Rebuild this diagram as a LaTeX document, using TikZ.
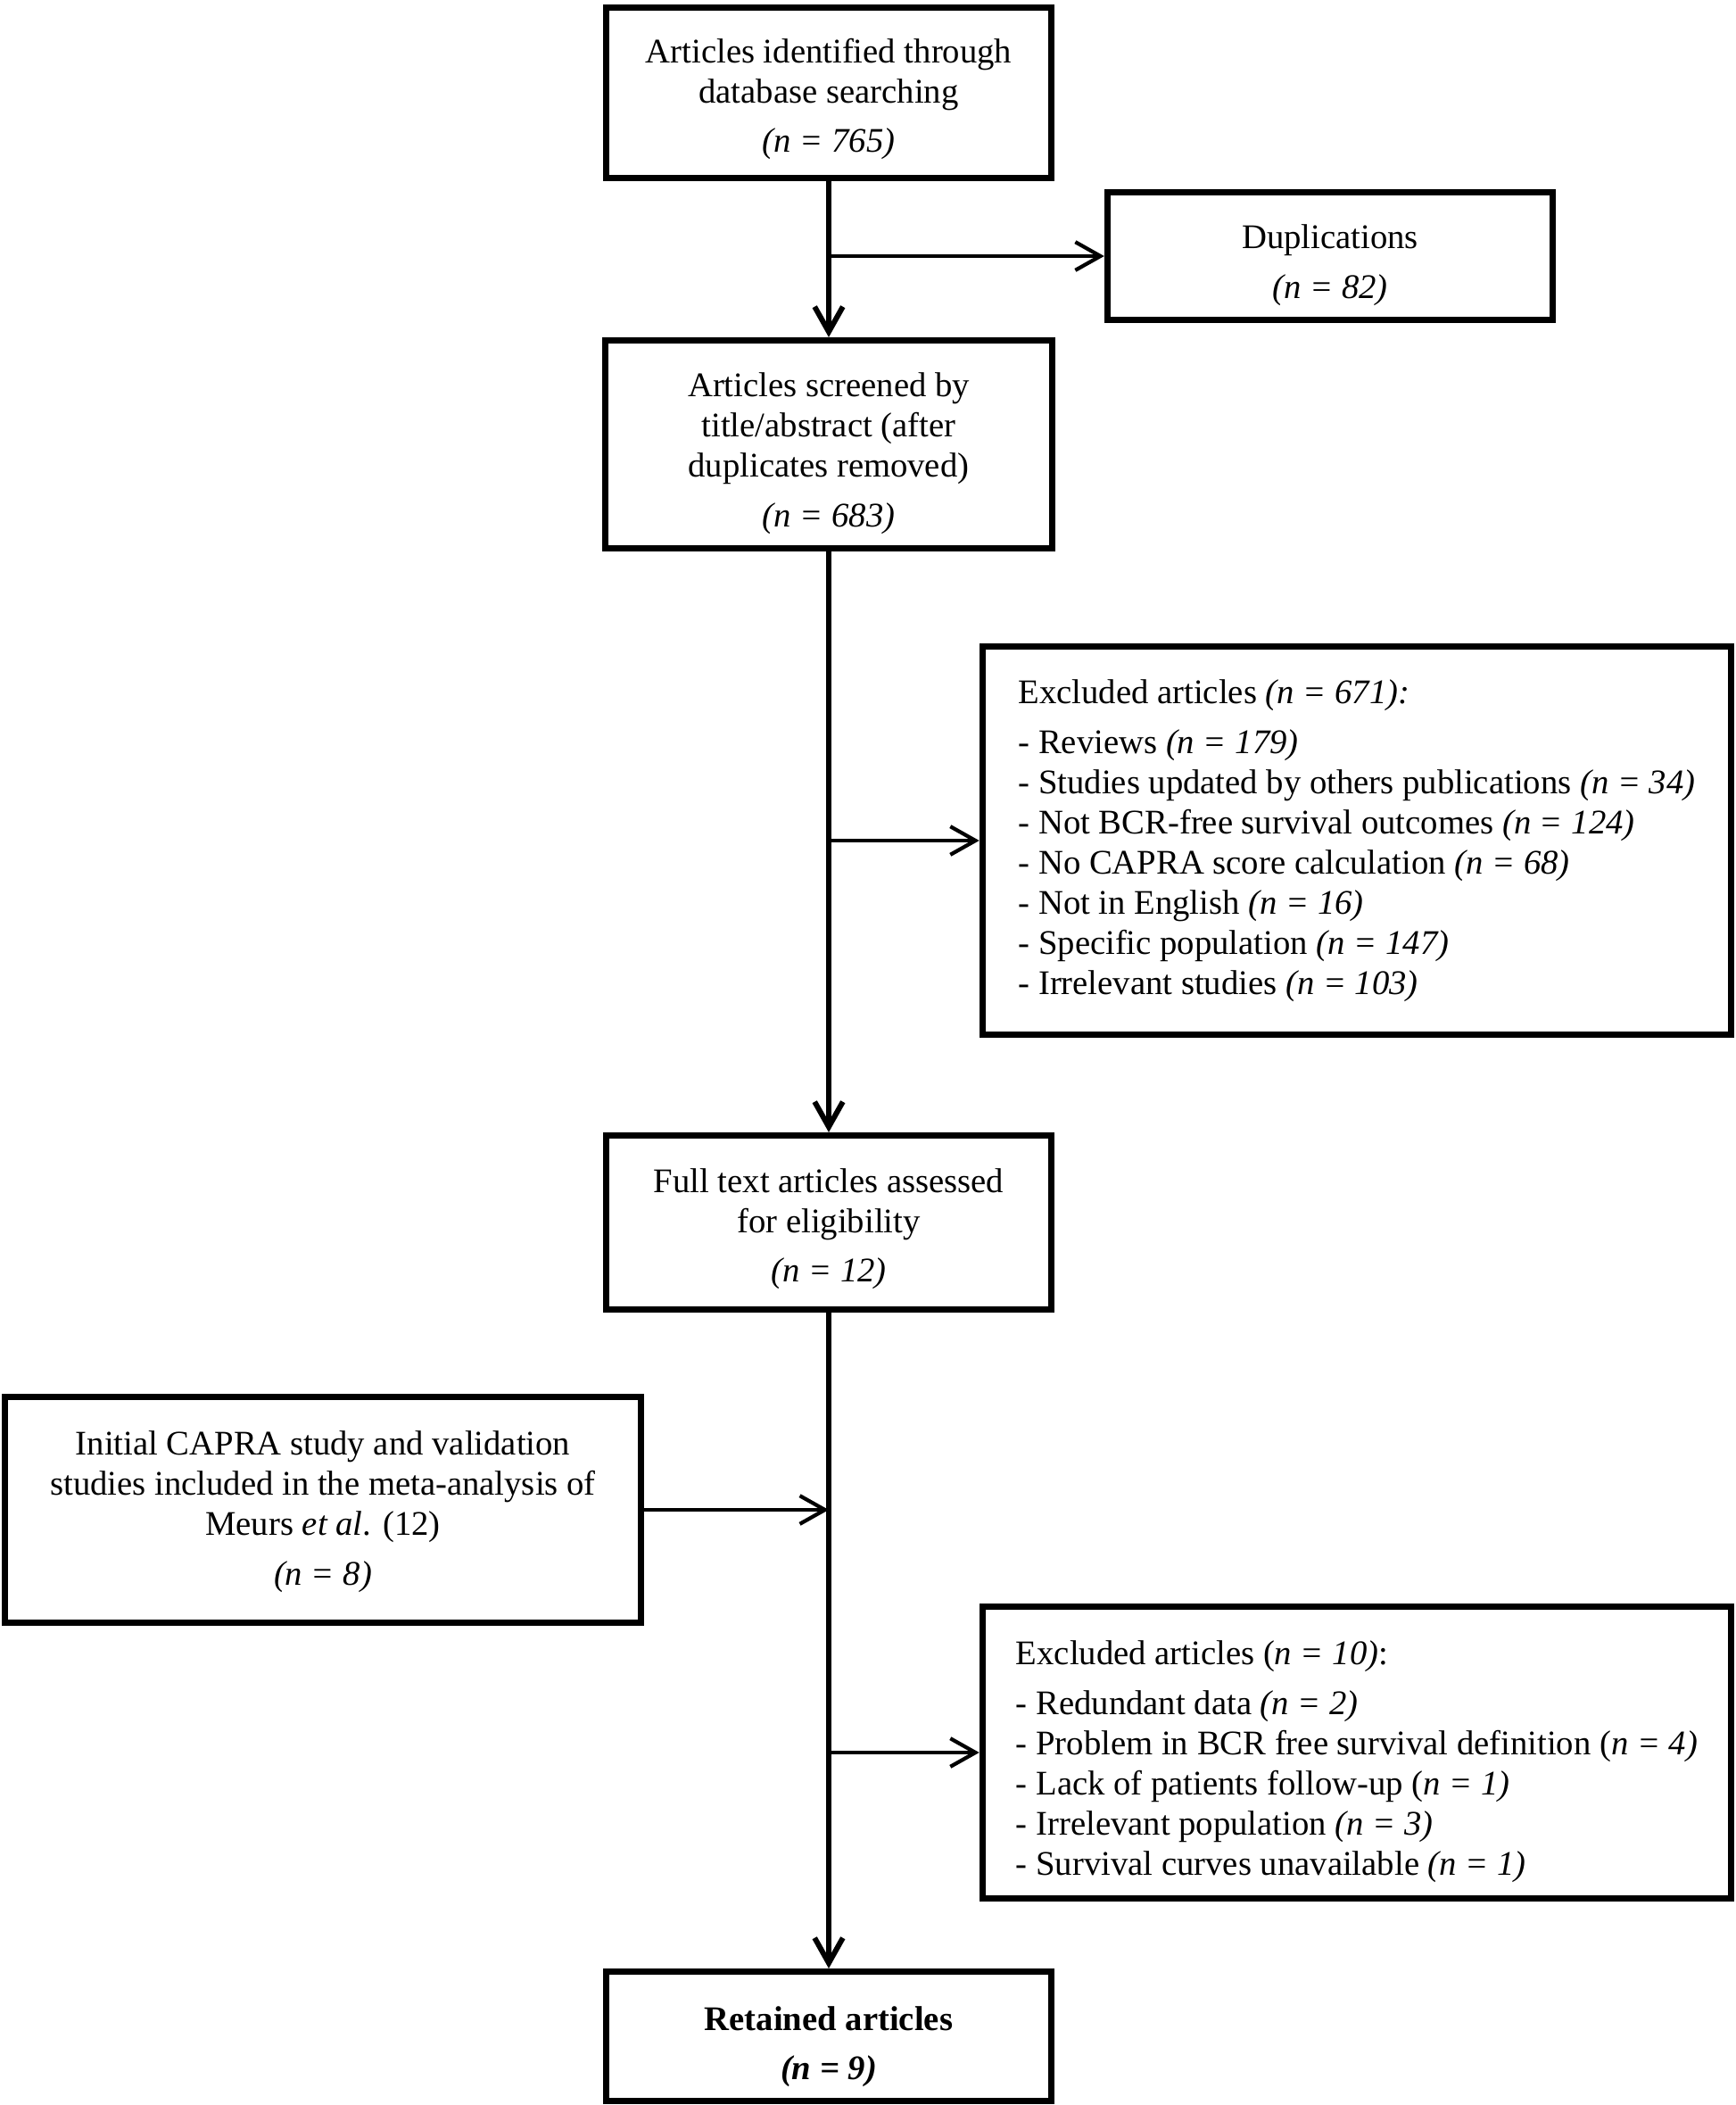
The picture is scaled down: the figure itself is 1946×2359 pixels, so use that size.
\documentclass[tikz,border=0pt]{standalone}
\usepackage{fontspec}
\setmainfont{Liberation Serif}
\usepackage{tikz}
\usetikzlibrary{arrows.meta}
\newcommand{\nn}[1]{\textit{n} = #1}
\newcommand{\lift}[1]{\rule{0pt}{#1}}

\begin{document}
\begin{tikzpicture}[x=0.01cm,y=-0.01cm,->,>={Straight Barb[length=8pt,width=9pt]},
  line width=1.7pt,
  box node/.style={rectangle,draw,line width=2pt,align=center,
    font=\fontsize{11}{12.8}\selectfont,inner sep=2pt},
  list node/.style={box node,align=left},
  side/.style={line width=1.2pt}]

  \useasboundingbox (0,0) rectangle (1946,2359);

  \node[box node,minimum width=4.99cm,minimum height=1.91cm] (ident) at (929,104)
    {\lift{11.8pt}Articles identified through\\database searching\\[3pt]\textit{(\nn{765})}};
  \node[box node,minimum width=4.99cm,minimum height=1.43cm] (dup) at (1491,287)
    {\lift{13.5pt}Duplications\\[3pt]\textit{(\nn{82})}};
  \node[box node,minimum width=5.00cm,minimum height=2.33cm] (screen) at (929,498)
    {\lift{13.5pt}Articles screened by\\title/abstract (after\\duplicates removed)\\[3pt]\textit{(\nn{683})}};
  \node[list node,minimum width=8.39cm,minimum height=4.34cm] (excl1) at (1521,942)
    {Excluded articles \textit{(\nn{671}):}\\[3pt]
     - Reviews \textit{(\nn{179})}\\
     - Studies updated by others publications \textit{(\nn{34})}\\
     - Not BCR-free survival outcomes \textit{(\nn{124})}\\
     - No CAPRA score calculation \textit{(\nn{68})}\\
     - Not in English \textit{(\nn{16})}\\
     - Specific population \textit{(\nn{147})}\\
     - Irrelevant studies \textit{(\nn{103})}};
  \node[box node,minimum width=4.98cm,minimum height=1.95cm] (full) at (929,1370)
    {\lift{11.8pt}Full text articles assessed\\for eligibility\\[3pt]\textit{(\nn{12})}};
  \node[box node,minimum width=7.13cm,minimum height=2.53cm] (capra) at (362,1692)
    {\lift{9pt}Initial CAPRA study and validation\\studies included in the meta-analysis of\\Meurs \textit{et al}. (12)\\[3pt]\textit{(\nn{8})}};
  \node[list node,minimum width=8.39cm,minimum height=3.26cm] (excl2) at (1521,1964)
    {\lift{13.5pt}Excluded articles (\textit{\nn{10})}:\\[3pt]
     - Redundant data \textit{(\nn{2})}\\
     - Problem in BCR free survival definition (\textit{\nn{4})}\\
     - Lack of patients follow-up (\textit{\nn{1})}\\
     - Irrelevant population \textit{(\nn{3})}\\
     - Survival curves unavailable \textit{(\nn{1})}};
  \node[box node,minimum width=4.98cm,minimum height=1.45cm] (kept) at (929,2282)
    {\lift{14.3pt}\textbf{Retained articles}\\[3pt]\textbf{\textit{(\nn{9})}}};

  % main column
  \draw (ident) -- (screen);
  \draw (screen) -- (full);
  \draw (full) -- (kept);

  % side arrows
  \draw[side] (ident.south |- dup.west) -- (dup.west);
  \draw[side] (screen.south |- excl1.west) -- (excl1.west);
  \draw[side] (capra.east) -- (capra.east -| full.south);
  \draw[side] (full.south |- excl2.west) -- (excl2.west);
\end{tikzpicture}
\end{document}
